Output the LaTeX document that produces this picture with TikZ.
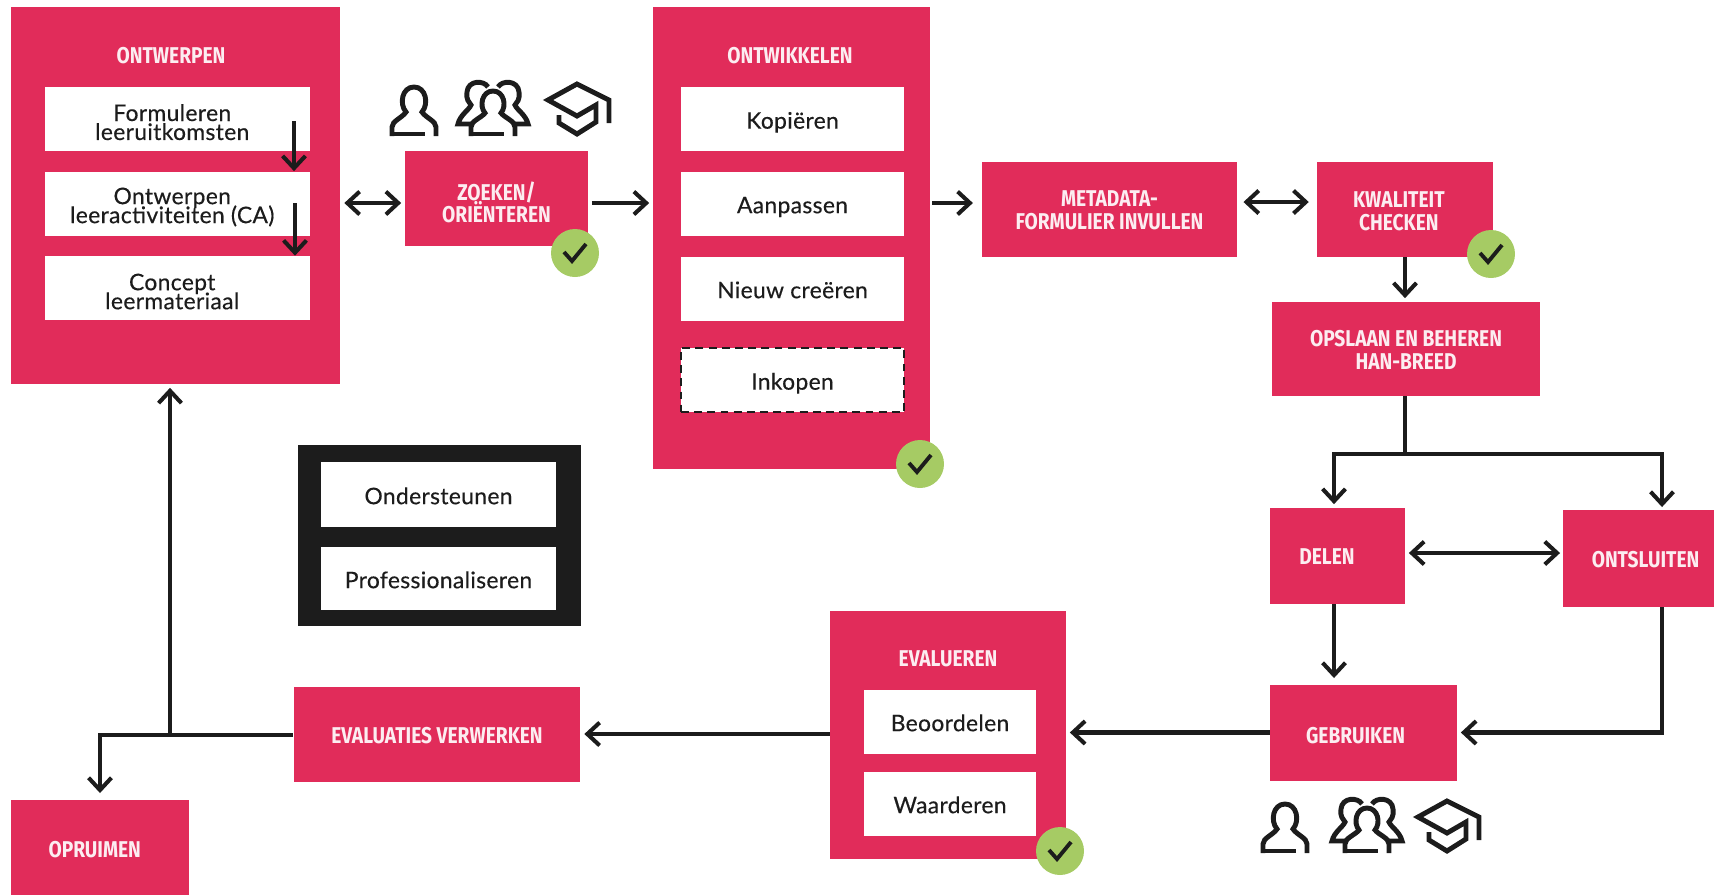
\documentclass[tikz,border=0pt]{standalone}
\usepackage{fontspec}
\setmainfont[LetterSpace=1.5,FakeBold=0.35]{Lato}
\newfontfamily\kopfont[FakeStretch=0.84]{Fira Sans}
\usetikzlibrary{arrows.meta}
\definecolor{rood}{HTML}{E12C5A}
\definecolor{groen}{HTML}{A6CB64}
\definecolor{zwart}{HTML}{1C1C1C}
\definecolor{roze}{HTML}{FCEDF1}
\setlength{\lineskiplimit}{-20pt}
\tikzset{
  blok/.style={fill=rood,inner sep=0pt},
  kop/.style={inner sep=0pt,align=center,text=roze,font=\kopfont\bfseries\fontsize{13}{13}\selectfont},
  wit/.style={fill=white,inner sep=0pt,align=center,text=zwart,font=\fontsize{13}{10.8}\selectfont},
  regel/.style={text height=12.5pt,text depth=1.5pt},
  pijl/.style={line width=2.3pt,draw=zwart},
  pics/vink/.style={code={
    \node[circle,fill=groen,minimum size=0.96cm,inner sep=0pt](-rond){};
    \draw[zwart,line width=2.2pt](-11,-1)--(-3,8)--(11,-9);
  }},
  pics/persoon/.style={code={
    \draw[zwart,line width=2.8pt](-22,26)--(-22,17)..controls(-22,11)and(-12,8)..(-8,2)
      ..controls(-15,-6)and(-12,-23)..(0,-23)..controls(12,-23)and(15,-6)..(8,2)
      ..controls(12,8)and(22,11)..(22,17)--(22,26);
    \draw[zwart,line width=2.8pt](-22,24)--(11,24);
  }},
  pics/groep/.style={code={
    \draw[zwart,line width=2.8pt](-22,26)--(-22,17)..controls(-22,11)and(-12,8)..(-8,3)
      ..controls(-14,-4)and(-11,-19)..(0,-19)..controls(11,-19)and(14,-4)..(8,3)
      ..controls(12,8)and(22,11)..(22,17)--(22,26);
    \draw[zwart,line width=2.8pt](-22,24)--(11,24);
    \draw[zwart,line width=2.8pt](-5,-23)..controls(-9,-30)and(-25,-30)..(-26,-18)
      ..controls(-27,-10)and(-24,-8)..(-22,-5)..controls(-24,0)and(-33,5)..(-35,14)--(-22,14);
    \draw[zwart,line width=2.8pt](5,-23)..controls(9,-30)and(25,-30)..(26,-18)
      ..controls(27,-10)and(24,-8)..(22,-5)..controls(24,0)and(33,5)..(35,14)--(22,14);
  }},
  pics/pet/.style={code={
    \draw[zwart,line width=2.8pt,line join=miter](32,13)--(32,-10)--(0,-26)--(-29,-10)--(0,6)--(19,-5)
      --(19,12)--(0,24)--(-18,13)--(-18,5);
  }},
}
\begin{document}
\begin{tikzpicture}[x=0.02cm,y=-0.02cm,>={Straight Barb[length=7pt,width=13pt]}]
\useasboundingbox(0,0)rectangle(1714,894);
% Ontwerpen
\draw(175.5,195.5)node[blok,minimum width=6.6cm,minimum height=7.54cm](node ontwerpen){}
		 (171,56)node[kop](kop ontwerpen){ONTWERPEN}
		 (177.5,119)node[wit,minimum width=5.3cm,minimum height=1.28cm,label={[wit,fill=none,xshift=-3pt,yshift=-1.8pt]center:Formuleren\\leeruitkomsten}](node formuleren){}
		 (177.5,203.5)node[wit,minimum width=5.3cm,minimum height=1.28cm,label={[wit,fill=none,xshift=-3pt,yshift=-2pt]center:Ontwerpen\\leeractiviteiten (CA)}](node leeractiviteiten){}
		 (177.5,288)node[wit,minimum width=5.3cm,minimum height=1.28cm,label={[wit,fill=none,xshift=-3pt,yshift=-2pt]center:Concept\\leermateriaal}](node concept){};
% Ontwikkelen
\draw(791.5,238)node[blok,minimum width=5.54cm,minimum height=9.24cm](node ontwikkelen){}
		 (790,56)node[kop](kop ontwikkelen){ONTWIKKELEN}
		 (792.5,119)node[wit,regel,minimum width=4.46cm,minimum height=1.28cm](node kopieren){Kopiëren}
		 (792.5,203.5)node[wit,regel,minimum width=4.46cm,minimum height=1.28cm](node aanpassen){Aanpassen}
		 (792.5,288.5)node[wit,regel,minimum width=4.46cm,minimum height=1.28cm](node nieuw){Nieuw creëren}
		 (792.5,380)node[wit,regel,minimum width=4.46cm,minimum height=1.28cm,draw=zwart,line width=1.2pt,dash pattern=on 4.5pt off 3pt](node inkopen){Inkopen};
% Bovenste rij
\draw(496.5,198.5)node[blok,minimum width=3.66cm,minimum height=1.9cm,label={[kop,yshift=-2.2pt]center:ZOEKEN/\\ORIËNTEREN}](node zoeken){}
		 (1109.5,209.5)node[blok,minimum width=5.1cm,minimum height=1.9cm,label={[kop,yshift=-0.6pt]center:METADATA-\\FORMULIER INVULLEN}](node metadata){}
		 (1405,209.5)node[blok,minimum width=3.52cm,minimum height=1.9cm,label={[kop,xshift=-3.5pt,yshift=-0.8pt]center:KWALITEIT\\CHECKEN}](node kwaliteit){}
		 (1406,349)node[blok,minimum width=5.36cm,minimum height=1.88cm,label={[kop,yshift=-0.6pt]center:OPSLAAN EN BEHEREN\\HAN-BREED}](node opslaan){};
% Rechts en onder
\draw(1337.5,556)node[blok,minimum width=2.7cm,minimum height=1.92cm,label={[kop,xshift=-6pt,yshift=-0.6pt]center:DELEN}](node delen){}
		 (1638.5,558.5)node[blok,minimum width=3.02cm,minimum height=1.94cm,label={[kop,xshift=4pt,yshift=-0.6pt]center:ONTSLUITEN}](node ontsluiten){}
		 (1363.5,732.5)node[blok,minimum width=3.74cm,minimum height=1.92cm,label={[kop,xshift=-4.5pt,yshift=-1.6pt]center:GEBRUIKEN}](node gebruiken){}
		 (437,734)node[blok,minimum width=5.74cm,minimum height=1.9cm,label={[kop,yshift=-1pt]center:EVALUATIES VERWERKEN}](node evaluaties){}
		 (100,847)node[blok,minimum width=3.56cm,minimum height=1.9cm,label={[kop,xshift=-3pt,yshift=-1.6pt]center:OPRUIMEN}](node opruimen){};
% Evalueren
\draw(948,735)node[blok,minimum width=4.72cm,minimum height=4.98cm](node evalueren){}
		 (948,659)node[kop](kop evalueren){EVALUEREN}
		 (950,721.5)node[wit,regel,minimum width=3.44cm,minimum height=1.28cm](node beoordelen){Beoordelen}
		 (950,803.5)node[wit,regel,minimum width=3.44cm,minimum height=1.28cm](node waarderen){Waarderen};
% Zwart kader
\draw(439.5,535.5)node[fill=zwart,minimum width=5.66cm,minimum height=3.64cm,inner sep=0pt](node kader){}
		 (438.5,494.5)node[wit,regel,minimum width=4.7cm,minimum height=1.3cm](node ondersteunen){Ondersteunen}
		 (438.5,578.5)node[wit,regel,minimum width=4.7cm,minimum height=1.26cm](node professionaliseren){Professionaliseren};

% Hulppunten voor de pijlen
\coordinate(rij boven)at(0,203);
\coordinate(rij metadata)at(0,202);
\coordinate(kol opslaan)at(1405,0);
\coordinate(splits)at(1405,454);
\coordinate(kol delen)at(1334,0);
\coordinate(kol rechts)at(1662,0);
\coordinate(rij delen)at(0,553);
\coordinate(rij gebruik)at(0,732.5);
\coordinate(hoek evaluaties)at(170,735);
\coordinate(hoek opruimen)at(100,735);
\coordinate(start een)at(294,121);
\coordinate(start twee)at(295,203);

\draw[pijl,->](start een)--(start een |- node leeractiviteiten.north);
\draw[pijl,->](start twee)--(start twee |- node concept.north);
\draw[pijl,<->,shorten <=2pt,shorten >=2pt](node ontwerpen.east |- rij boven)--(node zoeken.west |- rij boven);
\draw[pijl,->,shorten <=2pt,shorten >=2pt](node zoeken.east |- rij boven)--(node ontwikkelen.west |- rij boven);
\draw[pijl,->,shorten <=1pt,shorten >=5pt](node ontwikkelen.east |- rij boven)--(node metadata.west |- rij boven);
\draw[pijl,<->,shorten <=3.5pt,shorten >=4.5pt](node metadata.east |- rij metadata)--(node kwaliteit.west |- rij metadata);
\draw[pijl,->,shorten >=2pt](node kwaliteit.south -| kol opslaan)--(node opslaan.north -| kol opslaan);
% Splitsing naar delen en ontsluiten
\draw[pijl](node opslaan.south -| kol opslaan)--(splits);
\draw[pijl,->,shorten >=2pt](splits)-|(node delen.north -| kol delen);
\draw[pijl,->,shorten >=1.5pt](splits)-|(node ontsluiten.north -| kol rechts);
\draw[pijl,<->,shorten <=2pt,shorten >=1.5pt](node delen.east |- rij delen)--(node ontsluiten.west |- rij delen);
\draw[pijl,->,shorten >=3.5pt](node delen.south -| kol delen)--(node gebruiken.north -| kol delen);
% Terug naar gebruiken
\draw[pijl,->,shorten >=2pt](node ontsluiten.south -| kol rechts)|-(node gebruiken.east |- rij gebruik);
\draw[pijl,->,shorten >=2pt](node gebruiken.west |- rij gebruik)--(node evalueren.east |- rij gebruik);
\draw[pijl,->,shorten >=2pt](node evalueren.west |- node evaluaties)--(node evaluaties.east);
% Terug naar ontwerpen en opruimen
\draw[pijl,->,shorten >=2pt](node evaluaties.west |- hoek evaluaties)--(hoek evaluaties)--(node ontwerpen.south -| hoek evaluaties);
\draw[pijl,->,shorten >=3.5pt](hoek evaluaties)--(hoek opruimen)--(node opruimen.north -| hoek opruimen);

% Iconen en vinkjes
\pic at(414,110){persoon};
\pic at(493,110){groep};
\pic at(577,110){pet};
\pic at(1285,827){persoon};
\pic at(1367,827){groep};
\pic at(1447,827){pet};
\pic(vink zoeken)at(575,253){vink};
\pic(vink ontwikkelen)at(920,464){vink};
\pic(vink kwaliteit)at(1491,254){vink};
\pic(vink evalueren)at(1060,851){vink};
\end{tikzpicture}
\end{document}
